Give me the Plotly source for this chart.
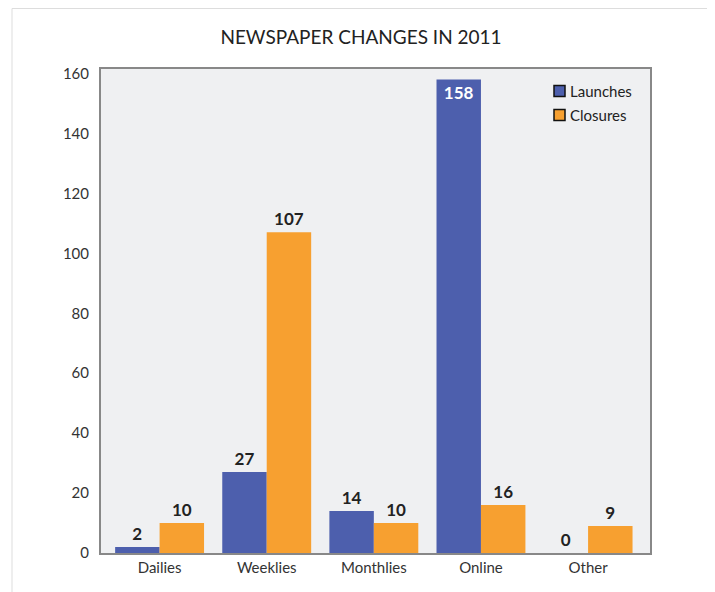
import plotly.graph_objects as go

categories = ["Dailies", "Weeklies", "Monthlies", "Online", "Other"]
launches = [2, 27, 14, 158, 0]
closures = [10, 107, 10, 16, 9]
launch_label_pos = ["outside", "outside", "outside", "inside", "outside"]
launch_label_color = ["#222222", "#222222", "#222222", "#ffffff", "#222222"]
series_names = ["Launches", "Closures"]
series_colors = ["#4D5FAD", "#F7A030"]
y_ticks = [0, 20, 40, 60, 80, 100, 120, 140, 160]

FONT = "Lato, Open Sans, sans-serif"

# figure-pixel layout of the plot area
L, R, T, B = 93, 642, 61, 545
W, H = 715, 592
PW, PH = R - L, B - T


def px_x(fx):
    return (fx - L) / PW


def px_y(fy):
    return 1 - (fy - T) / PH


fig = go.Figure()
fig.add_trace(go.Bar(
    name=series_names[0], x=categories, y=launches,
    marker=dict(color=series_colors[0], line=dict(width=0)),
    text=[str(v) for v in launches], textposition=launch_label_pos,
    insidetextanchor="end",
    textfont=dict(family=FONT, size=17, color=launch_label_color, weight="bold"),
    cliponaxis=False, showlegend=False,
))
fig.add_trace(go.Bar(
    name=series_names[1], x=categories, y=closures,
    marker=dict(color=series_colors[1], line=dict(width=0)),
    text=[str(v) for v in closures], textposition="outside",
    textfont=dict(family=FONT, size=17, color="#222222", weight="bold"),
    cliponaxis=False, showlegend=False,
))

shapes = [dict(type="rect", xref="paper", yref="paper",
               x0=px_x(4), x1=px_x(701), y0=px_y(W), y1=px_y(0.5),
               line=dict(color="#DDDDDD", width=1), fillcolor="rgba(0,0,0,0)",
               layer="below")]
annotations = []
for i, (name, col) in enumerate(zip(series_names, series_colors)):
    cy = 83 + i * 24
    shapes.append(dict(type="rect", xref="paper", yref="paper",
                       x0=px_x(546), x1=px_x(557), y0=px_y(cy + 5.5), y1=px_y(cy - 5.5),
                       fillcolor=col, line=dict(color="#111111", width=1.5)))
    annotations.append(dict(x=px_x(560), y=px_y(cy), xref="paper", yref="paper",
                            text=name, showarrow=False, xanchor="left", yanchor="middle",
                            font=dict(family=FONT, size=15, color="#222222")))

fig.update_layout(
    width=W, height=H,
    margin=dict(l=L, r=W - R, t=T, b=H - B),
    paper_bgcolor="white",
    plot_bgcolor="#EFF0F2",
    barmode="group", bargap=0.17, bargroupgap=0,
    font=dict(family=FONT, color="#333333"),
    title=dict(text="NEWSPAPER CHANGES IN 2011", x=353 / W, xanchor="center",
               xref="container", y=1 - 29 / H, yanchor="middle",
               font=dict(family=FONT, size=19, color="#222222")),
    showlegend=False,
    xaxis=dict(range=[-0.547, 4.578], showline=True, linecolor="#888888", linewidth=2,
               mirror=True, ticks="", tickfont=dict(family=FONT, size=15, color="#333333"),
               showgrid=False),
    yaxis=dict(range=[0, 161.5], tickvals=y_ticks,
               showline=True, linecolor="#888888", linewidth=2, mirror=True,
               showgrid=False, zeroline=False, ticks="", ticklabelstandoff=7,
               tickfont=dict(family=FONT, size=15, color="#333333")),
    shapes=shapes,
    annotations=annotations,
)

fig.write_html("out.html")
